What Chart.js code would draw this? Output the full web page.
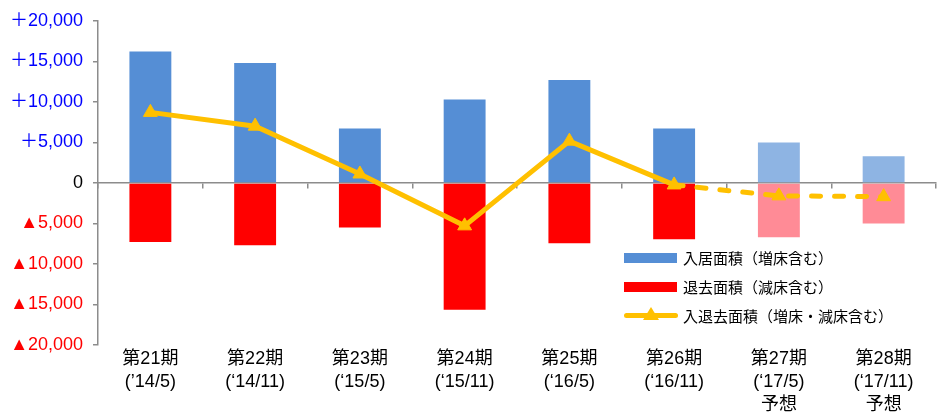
<!DOCTYPE html>
<html lang="ja">
<head>
<meta charset="utf-8">
<script src="https://cdn.jsdelivr.net/npm/chart.js@4"></script>
<style>
  body { margin: 0; background: #fff; }
  #wrap { position: relative; width: 937px; height: 415px; }
  #legend {
    position: absolute; left: 624px; top: 243px;
    font: 15px "Liberation Sans", "Noto Sans CJK JP", sans-serif; color: #000;
  }
  .item { display: flex; align-items: center; height: 29px; }
  .swatch { width: 53px; height: 10px; margin-right: 6px; }
  .lineIcon { position: relative; width: 54px; height: 5px; margin-right: 5px; border-radius: 3px; }
  .lineIcon span {
    position: absolute; left: 19px; top: -6px; width: 0; height: 0;
    border-left: 8px solid transparent; border-right: 8px solid transparent;
    border-bottom: 13px solid #FFC000;
  }
</style>
</head>
<body>
<div id="wrap">
  <canvas id="areaChart" width="937" height="415"></canvas>
  <div id="legend"></div>
</div>
<script>
// periods
const periods = ['第21期', '第22期', '第23期', '第24期', '第25期', '第26期', '第27期', '第28期'];
const periodDates = ['(’14/5)', '(‘14/11)', '(‘15/5)', '(‘15/11)', '(‘16/5)', '(‘16/11)', '(‘17/5)', '(‘17/11)'];
const forecastFlags = [false, false, false, false, false, false, true, true];

// series values (m2)
const moveInArea = [16200, 14800, 6700, 10300, 12700, 6700, 5000, 3300];
const moveOutArea = [-7300, -7700, -5500, -15650, -7450, -6950, -6700, -5000];
const netArea = [8700, 7000, 1100, -5300, 5150, -250, -1600, -1700];

// y-axis ticks
const yMin = -20000;
const yMax = 20000;
const yStep = 5000;

const seriesNames = ['入居面積（増床含む）', '退去面積（減床含む）', '入退去面積（増床・減床含む）'];

const BLUE = '#558ED5', BLUE_LIGHT = '#8EB4E3';
const RED = '#FF0000', RED_LIGHT = '#FF8B96';
const GOLD = '#FFC000';
const AXIS = '#8C8C8C';
const FONT = '"Liberation Sans", "DejaVu Sans", "Noto Sans CJK JP", sans-serif';

const labels = periods.map((p, i) => forecastFlags[i] ? [p, periodDates[i], '予想'] : [p, periodDates[i]]);

function formatTick(v) {
    if (v > 0) return '＋' + v.toLocaleString('en-US');
    if (v < 0) return '▲' + Math.abs(v).toLocaleString('en-US');
    return '0';
}

const chart = new Chart(document.getElementById('areaChart'), {
    type: 'bar',
    data: {
        labels: labels,
        datasets: [
            {
                type: 'line',
                label: seriesNames[2],
                data: netArea,
                borderColor: GOLD,
                backgroundColor: GOLD,
                borderWidth: 5,
                borderCapStyle: 'round',
                pointStyle: 'triangle',
                pointRadius: 8,
                pointBorderWidth: 1,
                pointBackgroundColor: GOLD,
                pointBorderColor: GOLD,
                tension: 0,
                order: 0,
                segment: {
                    borderDash: ctx => ctx.p0DataIndex >= 5 ? [9, 14] : undefined
                }
            },
            {
                label: seriesNames[0],
                data: moveInArea,
                backgroundColor: forecastFlags.map(f => f ? BLUE_LIGHT : BLUE),
                grouped: false,
                categoryPercentage: 1,
                barPercentage: 0.4,
                order: 1
            },
            {
                label: seriesNames[1],
                data: moveOutArea,
                backgroundColor: forecastFlags.map(f => f ? RED_LIGHT : RED),
                grouped: false,
                categoryPercentage: 1,
                barPercentage: 0.4,
                order: 2
            }
        ]
    },
    options: {
        responsive: false,
        animation: false,
        // no extra room for the line markers, the plot runs to the right edge
        layout: { autoPadding: false, padding: { top: 10, right: 1, left: 0, bottom: 0 } },
        plugins: {
            legend: { display: false },
            tooltip: { enabled: false }
        },
        scales: {
            x: {
                grid: { display: false, drawTicks: false, tickLength: 0 },
                border: { display: false },
                ticks: {
                    color: '#000',
                    padding: 3,
                    maxRotation: 0,
                    autoSkip: false,
                    font: { family: FONT, size: 18, lineHeight: 1.27 }
                },
                afterFit: scale => { scale.height = 70; }
            },
            xZero: {
                type: 'category',
                position: { y: 0 },
                labels: labels,
                offset: true,
                ticks: { display: false },
                grid: { display: true, drawOnChartArea: false, offset: true, tickLength: 5, color: AXIS, lineWidth: 1.5 },
                border: { display: true, color: AXIS, width: 1.5 }
            },
            y: {
                min: yMin,
                max: yMax,
                ticks: {
                    stepSize: yStep,
                    padding: 10,
                    callback: v => formatTick(v),
                    color: ctx => ctx.tick.value > 0 ? '#0000FF' : (ctx.tick.value < 0 ? '#FF0000' : '#000'),
                    font: { family: FONT, size: 18 }
                },
                grid: { drawOnChartArea: false, tickLength: 5, color: AXIS, lineWidth: 1.5 },
                border: { color: AXIS, width: 1.5 },
                afterFit: scale => { scale.width = 98; }
            }
        }
    }
});

// legend inside chart area
const legendEl = document.getElementById('legend');
[
    { name: seriesNames[0], color: BLUE, kind: 'box' },
    { name: seriesNames[1], color: RED, kind: 'box' },
    { name: seriesNames[2], color: GOLD, kind: 'line' }
].forEach(s => {
    const item = document.createElement('div');
    item.className = 'item';
    const icon = document.createElement('div');
    if (s.kind === 'box') {
        icon.className = 'swatch';
    } else {
        icon.className = 'lineIcon';
        icon.appendChild(document.createElement('span'));
    }
    icon.style.background = s.color;
    const txt = document.createElement('span');
    txt.textContent = s.name;
    item.appendChild(icon);
    item.appendChild(txt);
    legendEl.appendChild(item);
});
</script>
</body>
</html>
